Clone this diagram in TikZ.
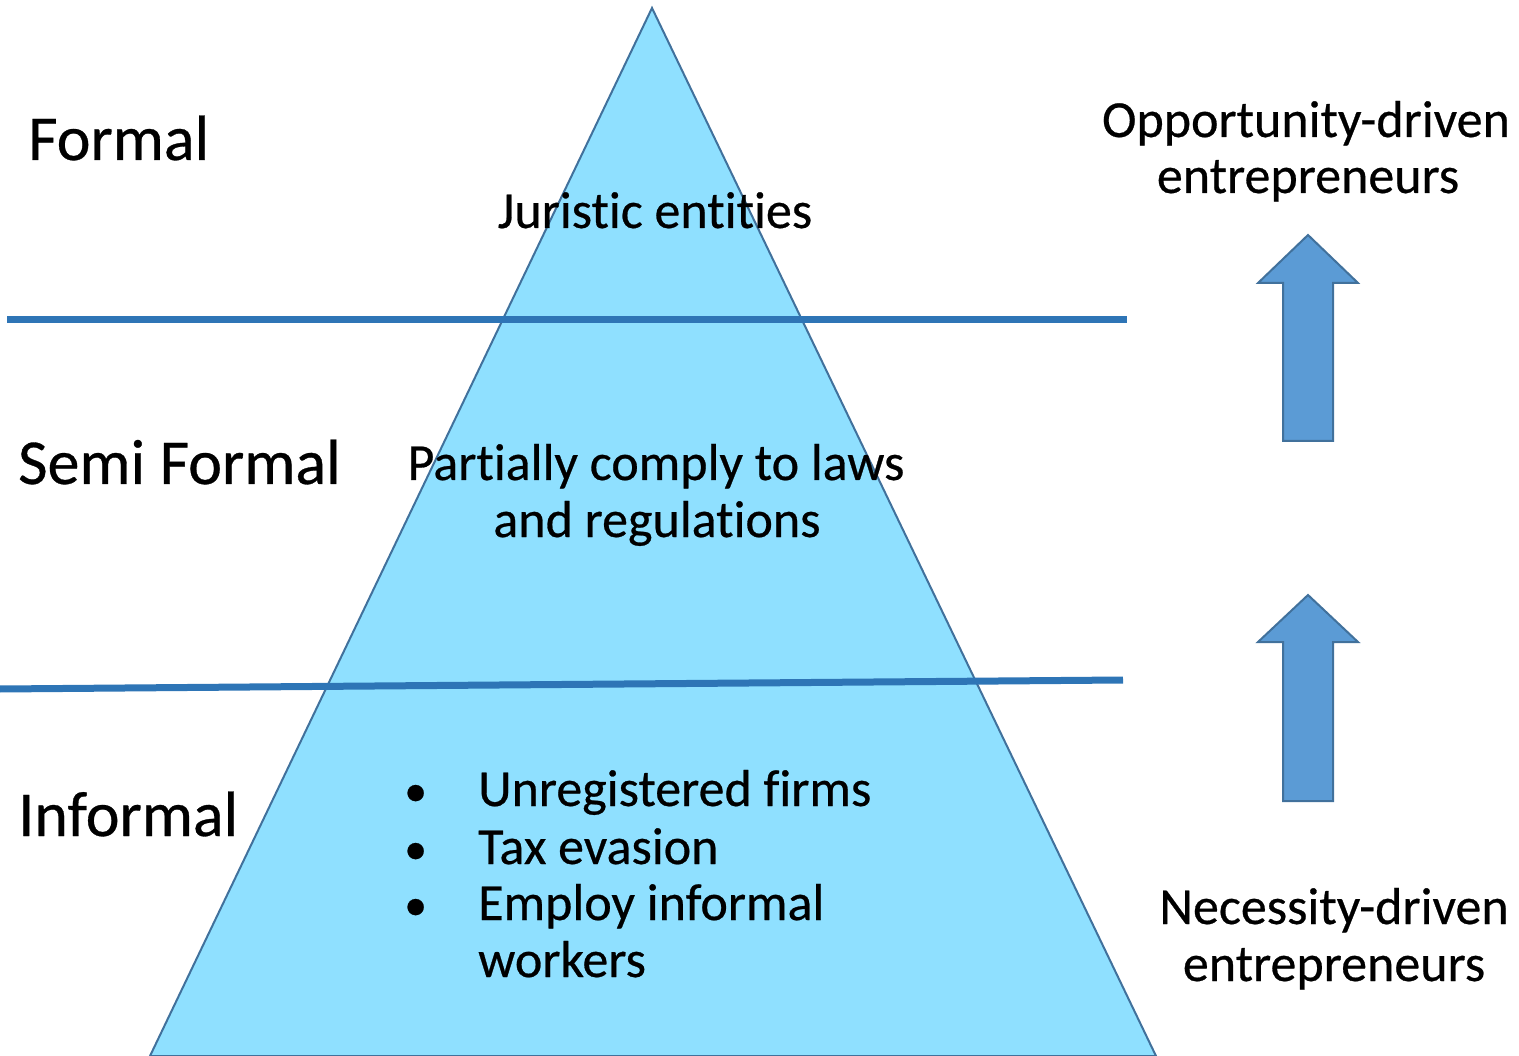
\documentclass[tikz,border=0pt]{standalone}
\usepackage{fontspec}
\setmainfont[Ligatures=NoCommon, FakeBold=0.5]{Carlito}
\definecolor{pyrfill}{RGB}{143,224,255}
\definecolor{pyrline}{RGB}{65,113,156}
\definecolor{sepline}{RGB}{46,117,182}
\definecolor{arrfill}{RGB}{91,155,213}
\tikzset{
  lvl/.style={anchor=base west, inner sep=0pt, font=\fontsize{64}{70}\selectfont},
  inner/.style={anchor=base, inner sep=0pt, font=\fontsize{52}{58}\selectfont},
  blt/.style={anchor=base west, inner sep=0pt, font=\fontsize{52}{58}\selectfont},
  side/.style={anchor=base, inner sep=0pt, font=\fontsize{52}{58}\selectfont},
  sep/.style={sepline, line width=7pt},
  uparrow/.style={fill=arrfill, draw=pyrline, line width=2pt, line join=miter}
}
\begin{document}
\begin{tikzpicture}[x=1pt,y=-1pt]
\useasboundingbox (0,0) rectangle (1519,1056);
% pyramid
\coordinate (apex) at (652,8);
\coordinate (bl) at (150,1056);
\coordinate (br) at (1156,1056);
\draw[fill=pyrfill, draw=pyrline, line width=2pt] (apex) -- (br) -- (bl) -- cycle;
% separator lines
\coordinate (s1a) at (7,320);
\coordinate (s1b) at (1127,320);
\coordinate (s2a) at (0,689);
\coordinate (s2b) at (1123,680);
\draw[sep] (s1a) -- (s1b);
\draw[sep] (s2a) -- (s2b);
% level labels
\node[lvl] (formal) at (28,160) {Formal};
\node[lvl] (semi) at (18,484) {Semi Formal};
\node[lvl] (informal) at (18,836) {Informal};
% inner texts
\node[inner] (jur) at (655,228) {Juristic entities};
\node[inner] (part1) at (656,480) {Partially comply to laws};
\node[inner] (part2) at (657,537) {and regulations};
% bullets
\node[blt, font=\fontsize{46}{50}\selectfont] (b1) at (404,806) {•};
\node[blt, font=\fontsize{46}{50}\selectfont] (b2) at (404,864) {•};
\node[blt, font=\fontsize{46}{50}\selectfont] (b3) at (404,920) {•};
\node[blt] (t1) at (478,806) {Unregistered firms};
\node[blt] (t2) at (478,864) {Tax evasion};
\node[blt] (t3) at (478,920) {Employ informal};
\node[blt] (t4) at (478,977) {workers};
% side texts
\node[side] (opp1) at (1306,137) {Opportunity-driven};
\node[side] (opp2) at (1308,193) {entrepreneurs};
\node[side] (nec1) at (1334,924) {Necessity-driven};
\node[side] (nec2) at (1334,981) {entrepreneurs};
% arrows
\draw[uparrow] (1308,235) -- (1358,283) -- (1333,283) -- (1333,441) -- (1283,441) -- (1283,283) -- (1258,283) -- cycle;
\draw[uparrow] (1308,595) -- (1358,642) -- (1333,642) -- (1333,801) -- (1283,801) -- (1283,642) -- (1258,642) -- cycle;
\end{tikzpicture}
\end{document}
